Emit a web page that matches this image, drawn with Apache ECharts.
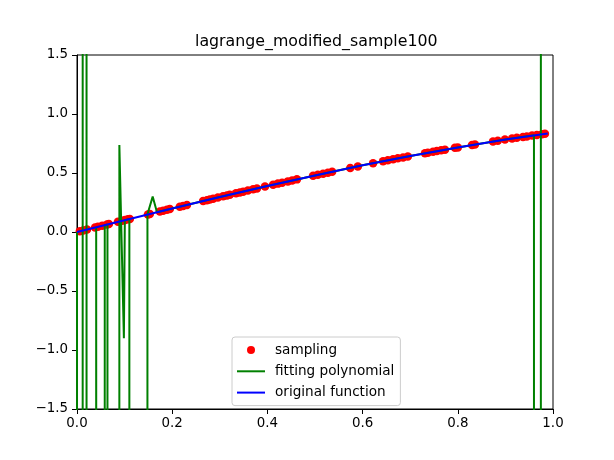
<!DOCTYPE html>
<html>
<head>
<meta charset="utf-8">
<script src="https://cdn.jsdelivr.net/npm/echarts/dist/echarts.min.js"></script>
<style>
  html, body { margin: 0; padding: 0; background: #fff; }
  #chart { width: 614px; height: 460px; }
</style>
</head>
<body>
<div id="chart"></div>
<script>
// sampling points (red dots)
const sampleX = [0.006, 0.013, 0.021, 0.038, 0.044, 0.053, 0.063, 0.067, 0.086, 0.095,
  0.101, 0.107, 0.111, 0.149, 0.153, 0.174, 0.181, 0.189, 0.195, 0.216,
  0.223, 0.231, 0.265, 0.273, 0.279, 0.286, 0.296, 0.307, 0.315, 0.321,
  0.334, 0.342, 0.349, 0.359, 0.370, 0.378, 0.395, 0.412, 0.422, 0.431,
  0.443, 0.452, 0.462, 0.496, 0.506, 0.517, 0.527, 0.536, 0.574, 0.590,
  0.622, 0.643, 0.653, 0.664, 0.674, 0.685, 0.695, 0.731, 0.737, 0.748,
  0.756, 0.765, 0.773, 0.794, 0.800, 0.830, 0.836, 0.874, 0.884, 0.899,
  0.914, 0.924, 0.937, 0.945, 0.956, 0.966, 0.977, 0.983];
const sampleY = [0.006, 0.013, 0.021, 0.038, 0.044, 0.053, 0.063, 0.067, 0.086, 0.095,
  0.101, 0.107, 0.111, 0.148, 0.152, 0.173, 0.180, 0.188, 0.194, 0.214,
  0.221, 0.229, 0.262, 0.270, 0.275, 0.282, 0.292, 0.302, 0.310, 0.316,
  0.328, 0.335, 0.342, 0.351, 0.362, 0.369, 0.385, 0.400, 0.410, 0.418,
  0.429, 0.437, 0.446, 0.476, 0.485, 0.494, 0.503, 0.511, 0.543, 0.556,
  0.583, 0.599, 0.608, 0.616, 0.624, 0.632, 0.640, 0.667, 0.672, 0.680,
  0.686, 0.693, 0.698, 0.713, 0.717, 0.738, 0.742, 0.767, 0.773, 0.783,
  0.792, 0.798, 0.806, 0.810, 0.817, 0.823, 0.829, 0.832];

// fitting polynomial (green), values far outside the view are estimated
const fitX = [0.000, 0.0027, 0.0032, 0.0117, 0.0122, 0.0198, 0.0203, 0.0398, 0.0403, 0.0440,
  0.0445, 0.0578, 0.0583, 0.0640, 0.0645, 0.0885, 0.0890, 0.0985, 0.1005, 0.1100,
  0.1105, 0.1470, 0.1480, 0.1590, 0.1680, 0.2000, 0.3000, 0.4000, 0.5000, 0.6000,
  0.7000, 0.8000, 0.9000, 0.9600, 0.9610, 0.9740, 0.9750, 0.9850];
const fitY = [0.000, 0.003, -80, -80, 80, 80, -80, -80, 0.040, 0.044,
  -80, -80, 0.058, 0.064, -80, -80, 0.737, -0.900, 0.100, 0.110,
  -80, -80, 0.150, 0.300, 0.168, 0.199, 0.296, 0.389, 0.479, 0.565,
  0.644, 0.717, 0.783, 0.819, -80, -80, 80, 80];

// original function (blue)
const origX = [0.0, 0.1, 0.2, 0.3, 0.4, 0.5, 0.6, 0.7, 0.8, 0.9, 0.989];
const origY = [0.0, 0.100, 0.199, 0.296, 0.389, 0.479, 0.565, 0.644, 0.717, 0.783, 0.835];

const zip = (xs, ys) => xs.map((x, i) => [x, ys[i]]);

const chart = echarts.init(document.getElementById('chart'));
const font = 'DejaVu Sans';
const minus = s => s.replace('-', '\u2212');

chart.setOption({
  animation: false,
  backgroundColor: '#fff',
  title: {
    text: 'lagrange_modified_sample100',
    left: 195,
    top: 34,
    padding: 0,
    textStyle: { fontFamily: font, fontSize: 15.8, fontWeight: 'normal', color: '#000' }
  },
  grid: {
    left: 77, top: 55, width: 476, height: 354,
    show: true, borderColor: '#000', borderWidth: 1,
    outerBoundsMode: 'none'
  },
  legend: {
    orient: 'vertical',
    left: 232, top: 337,
    padding: [6, 6, 6, 5],
    itemGap: 7.3,
    itemWidth: 28, itemHeight: 8,
    borderColor: '#cccccc', borderWidth: 1, borderRadius: 3,
    backgroundColor: 'rgba(255,255,255,0.8)',
    textStyle: { fontFamily: font, fontSize: 13.6, color: '#000', padding: [0, 0, 0, 5] },
    data: [
      { name: 'sampling', icon: 'circle' },
      { name: 'fitting polynomial', icon: 'path://M0,0H28V2H0Z' },
      { name: 'original function', icon: 'path://M0,0H28V2H0Z' }
    ]
  },
  xAxis: {
    type: 'value', min: 0, max: 1, interval: 0.2,
    axisLine: { show: true, onZero: false, lineStyle: { color: '#000', width: 1 } },
    axisTick: { show: true, inside: false, length: 5, lineStyle: { color: '#000' } },
    axisLabel: { margin: 8, fontFamily: font, fontSize: 13.4, color: '#000', formatter: v => v.toFixed(1) },
    splitLine: { show: false }
  },
  yAxis: {
    type: 'value', min: -1.5, max: 1.5, interval: 0.5,
    axisLine: { show: true, onZero: false, lineStyle: { color: '#000', width: 1 } },
    axisTick: { show: true, inside: false, length: 5, lineStyle: { color: '#000' } },
    axisLabel: { margin: 9, fontFamily: font, fontSize: 13.4, color: '#000', formatter: v => minus(v.toFixed(1)) },
    splitLine: { show: false }
  },
  series: [
    {
      name: 'sampling', type: 'scatter',
      symbol: 'circle', symbolSize: 8.5,
      itemStyle: { color: '#ff0000', opacity: 1 },
      data: zip(sampleX, sampleY)
    },
    {
      name: 'fitting polynomial', type: 'line',
      showSymbol: false, symbol: 'none', clip: true,
      lineStyle: { color: '#008000', width: 2 },
      itemStyle: { color: '#008000' },
      data: zip(fitX, fitY)
    },
    {
      name: 'original function', type: 'line',
      showSymbol: false, symbol: 'none', clip: true,
      lineStyle: { color: '#0000ff', width: 2 },
      itemStyle: { color: '#0000ff' },
      data: zip(origX, origY)
    }
  ]
});
</script>
</body>
</html>
